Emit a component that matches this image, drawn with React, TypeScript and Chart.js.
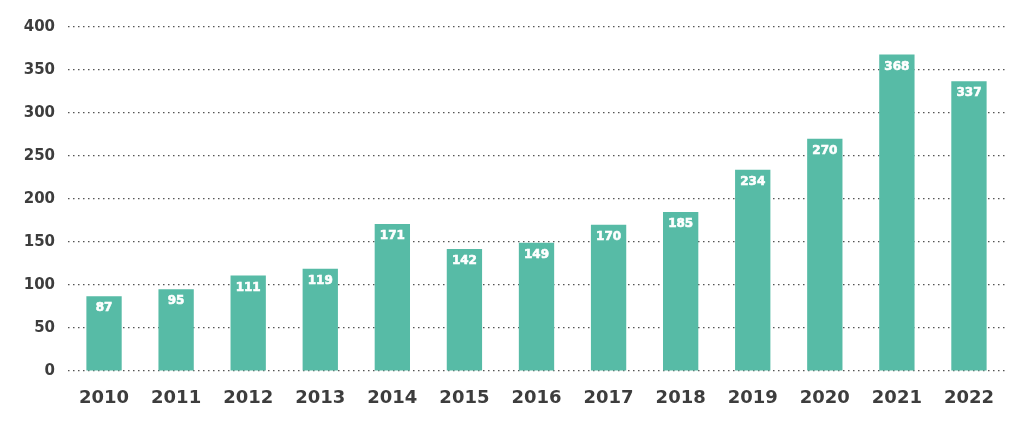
import React, { useEffect, useRef } from "react";
import { Chart, registerables } from "chart.js";

Chart.register(...registerables);

const categories = ["2010", "2011", "2012", "2013", "2014", "2015", "2016", "2017", "2018", "2019", "2020", "2021", "2022"];
const values = [87, 95, 111, 119, 171, 142, 149, 170, 185, 234, 270, 368, 337];
const yTicks = [0, 50, 100, 150, 200, 250, 300, 350, 400];

const FONT = "'DejaVu Sans', sans-serif";

const valueLabels = {
  id: "valueLabels",
  afterDatasetsDraw(chart: any) {
    const ctx = chart.ctx;
    const meta = chart.getDatasetMeta(0);
    ctx.save();
    ctx.fillStyle = "#ffffff";
    ctx.strokeStyle = "#ffffff";
    ctx.lineWidth = 0.6;
    ctx.font = `bold 12px ${FONT}`;
    ctx.textAlign = "center";
    ctx.textBaseline = "middle";
    meta.data.forEach((bar: any, i: number) => {
      ctx.fillText(String(values[i]), bar.x, bar.y + 12);
      ctx.strokeText(String(values[i]), bar.x, bar.y + 12);
    });
    ctx.restore();
  },
};

export default function App() {
  const ref = useRef<HTMLCanvasElement>(null);
  useEffect(() => {
    document.body.style.margin = "0";
    const chart = new Chart(ref.current as HTMLCanvasElement, {
      type: "bar",
      data: {
        labels: categories,
        datasets: [
          {
            data: values,
            backgroundColor: "#57bba6",
            barPercentage: 0.49,
            categoryPercentage: 1,
          },
        ],
      },
      options: {
        animation: false,
        responsive: true,
        maintainAspectRatio: false,
        layout: { padding: { top: 27, right: 19, left: 0, bottom: 0 } },
        plugins: { legend: { display: false }, tooltip: { enabled: false } },
        scales: {
          x: {
            grid: { display: false, drawTicks: false },
            border: { display: false },
            ticks: {
              color: "#3d3d3d",
              font: { family: FONT, size: 18, weight: "bold" },
              padding: 17,
            },
            afterFit(scale: any) {
              scale.height = 54;
            },
          },
          y: {
            min: 0,
            max: 400,
            afterBuildTicks(scale: any) {
              scale.ticks = yTicks.map((v) => ({ value: v }));
            },
            grid: {
              color: "#555555",
              lineWidth: 1.2,
              drawTicks: false,
            },
            border: { display: false, dash: [1.5, 3.5] },
            ticks: {
              color: "#3d3d3d",
              font: { family: FONT, size: 15, weight: "bold" },
              padding: 13,
            },
            afterFit(scale: any) {
              scale.width = 68;
            },
          },
        },
      },
      plugins: [valueLabels],
    });
    return () => chart.destroy();
  }, []);
  return (
    <div style={{ position: "fixed", left: 0, top: 0, width: 1024, height: 425 }}>
      <canvas ref={ref} />
    </div>
  );
}
